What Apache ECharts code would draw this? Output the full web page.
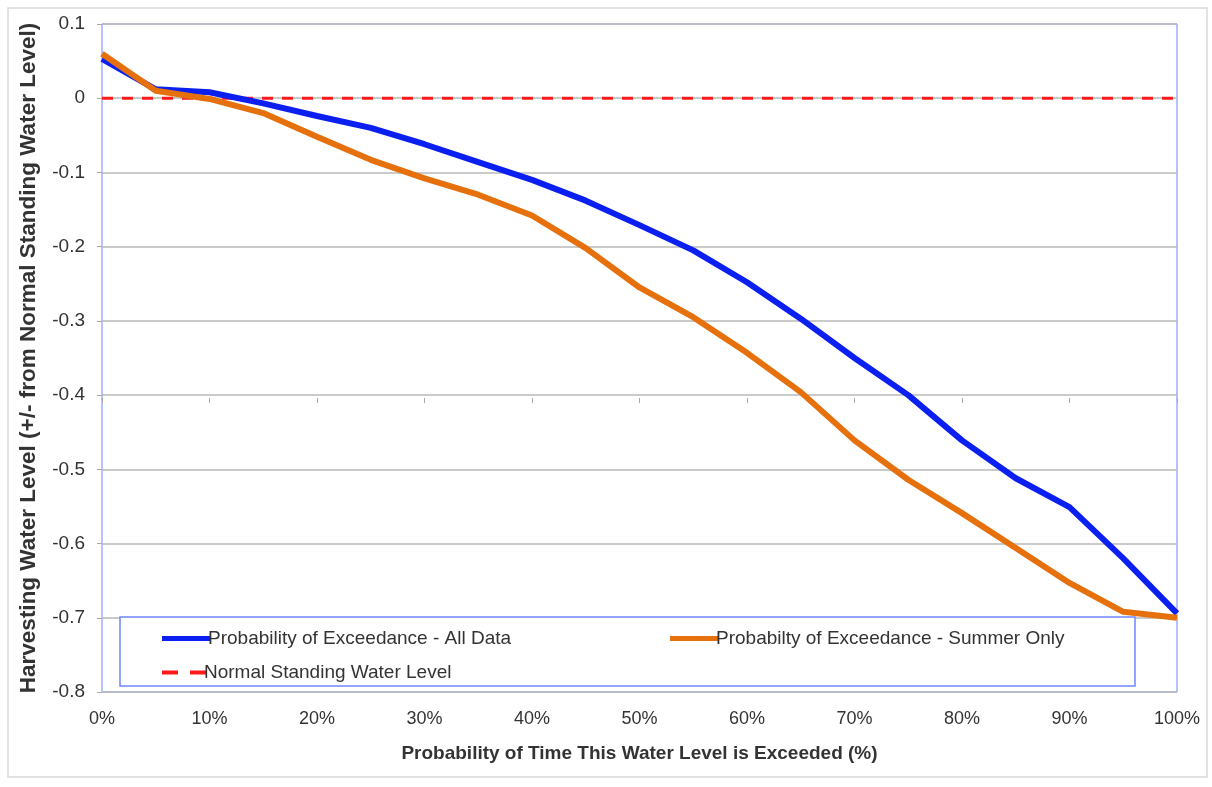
<!DOCTYPE html>
<html>
<head>
<meta charset="utf-8">
<script src="https://cdn.jsdelivr.net/npm/echarts@6/dist/echarts.min.js"></script>
<style>
  html, body { margin: 0; padding: 0; background: #fff; }
  #chart { width: 1212px; height: 787px; }
</style>
</head>
<body>
<div id="chart"></div>
<script>
// probability of exceedance (%)
const xValues = [0, 5, 10, 15, 20, 25, 30, 35, 40, 45, 50, 55, 60, 65, 70, 75, 80, 85, 90, 95, 100];
// water level, all data
const allData = [0.053, 0.012, 0.008, -0.007, -0.024, -0.040, -0.062, -0.086, -0.110, -0.138, -0.171, -0.205, -0.248, -0.297, -0.350, -0.400, -0.461, -0.512, -0.551, -0.620, -0.694];
// water level, summer only
const summerOnly = [0.060, 0.010, -0.001, -0.020, -0.052, -0.083, -0.108, -0.130, -0.158, -0.202, -0.255, -0.295, -0.343, -0.396, -0.461, -0.514, -0.559, -0.606, -0.653, -0.692, -0.700];
// normal standing water level
const normalLevel = [0, 0];
const normalX = [0, 100];

const seriesNames = [
  'Probability of Exceedance - All Data',
  'Probabilty of Exceedance - Summer Only',
  'Normal Standing Water Level'
];

const font = '"Liberation Sans", Arial, sans-serif';
const txt = '#333';

const pair = (xs, ys) => xs.map((x, i) => [x, ys[i]]);

const chart = echarts.init(document.getElementById('chart'));

const legendText = { fontSize: 19, color: txt, fontFamily: font, padding: [0, 0, 0, -7] };

chart.setOption({
  animation: false,
  backgroundColor: '#fff',
  textStyle: { fontFamily: font },
  grid: {
    left: 102, right: 35, top: 24, bottom: 95,
    show: true, borderColor: '#6f86ff', borderWidth: 1
  },
  xAxis: [{
    type: 'value', min: 0, max: 100, interval: 10,
    name: 'Probability of Time This Water Level is Exceeded (%)',
    nameLocation: 'middle', nameGap: 52,
    nameTextStyle: { fontSize: 19, fontWeight: 'bold', color: txt, fontFamily: font },
    axisLine: { show: false },
    axisTick: { show: false },
    splitLine: { show: false },
    axisLabel: { formatter: '{value}%', fontSize: 18, color: txt, margin: 18, fontFamily: font }
  }, {
    // the horizontal axis crosses at -0.4 in the original
    type: 'value', min: 0, max: 100, interval: 10, position: 'bottom', offset: -294,
    axisLine: { show: false },
    axisTick: { show: true, length: 5, lineStyle: { color: '#aaa' } },
    axisLabel: { show: false },
    splitLine: { show: false }
  }],
  yAxis: {
    type: 'value', min: -0.8, max: 0.1, interval: 0.1,
    name: 'Harvesting Water Level (+/- from Normal Standing Water Level)',
    nameLocation: 'middle', nameGap: 62, nameRotate: 90,
    nameTextStyle: { fontSize: 22.5, fontWeight: 'bold', color: txt, fontFamily: font },
    axisLine: { show: false },
    axisTick: { show: true, length: 5, lineStyle: { color: '#aaa' } },
    splitLine: { show: true, lineStyle: { color: '#b8b8b8', width: 1.5 } },
    axisLabel: {
      fontSize: 19, color: txt, margin: 17, fontFamily: font,
      formatter: v => String(+v.toFixed(1))
    }
  },
  graphic: [{
    type: 'rect', z: 0, silent: true,
    shape: { x: 8, y: 8, width: 1199, height: 769 },
    style: { fill: 'none', stroke: '#d9d9d9', lineWidth: 1.5 }
  }, {
    type: 'rect', z: 50, silent: true,
    shape: { x: 120, y: 617, width: 1015, height: 69 },
    style: { fill: '#fff', stroke: '#6f86ff', lineWidth: 1.5 }
  }],
  legend: [{
    z: 60, left: 157, top: 624, itemWidth: 48, itemHeight: 5, itemGap: 0, icon: 'rect',
    data: [seriesNames[0]],
    textStyle: legendText
  }, {
    z: 60, left: 665, top: 624, itemWidth: 48, itemHeight: 5, itemGap: 0, icon: 'rect',
    data: [seriesNames[1]],
    textStyle: legendText
  }, {
    z: 60, left: 157, top: 658, itemWidth: 44, itemHeight: 4, itemGap: 0,
    icon: 'path://M0,0h16v4h-16z M28,0h16v4h-16z',
    data: [seriesNames[2]],
    textStyle: legendText
  }],
  series: [{
    name: seriesNames[2], type: 'line', symbol: 'none', z: 3,
    data: pair(normalX, normalLevel),
    lineStyle: { color: '#ff1a1a', width: 3, type: [11, 9] },
    itemStyle: { color: '#ff1a1a' }
  }, {
    name: seriesNames[0], type: 'line', symbol: 'none', z: 4,
    data: pair(xValues, allData),
    lineStyle: { color: '#0a1ff0', width: 6 },
    itemStyle: { color: '#0a1ff0' }
  }, {
    name: seriesNames[1], type: 'line', symbol: 'none', z: 5,
    data: pair(xValues, summerOnly),
    lineStyle: { color: '#e5700c', width: 6 },
    itemStyle: { color: '#e5700c' }
  }]
});
</script>
</body>
</html>
